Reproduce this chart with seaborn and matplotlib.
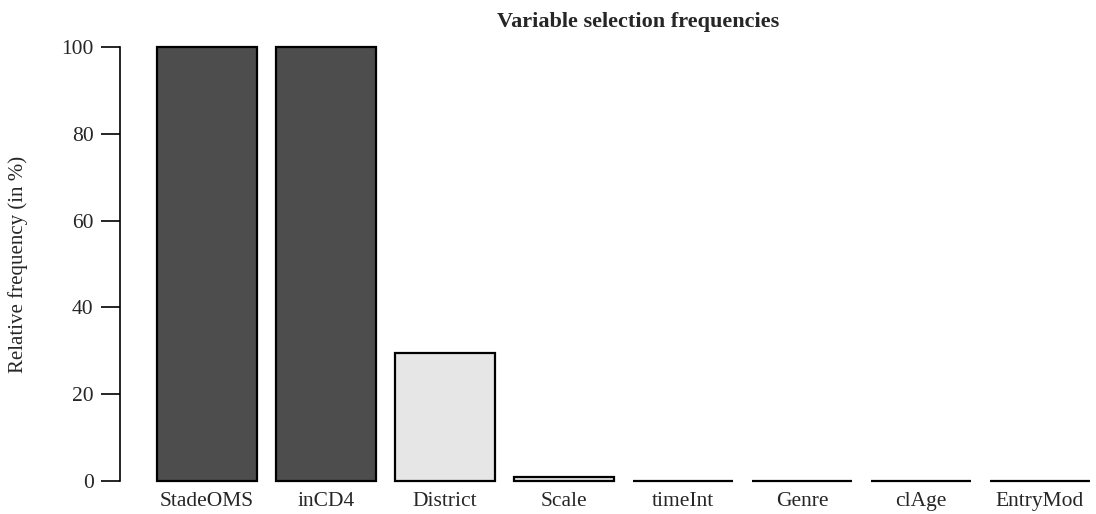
import matplotlib
matplotlib.use("Agg")
import matplotlib.pyplot as plt
import seaborn as sns

# Variable selection frequencies (in %)
variables = ["StadeOMS", "inCD4", "District", "Scale", "timeInt", "Genre", "clAge", "EntryMod"]
frequencies = [100, 100, 29.5, 1.0, 0, 0, 0, 0]
bar_colors = ["#4D4D4D", "#4D4D4D", "#E6E6E6", "#E6E6E6", "#E6E6E6", "#E6E6E6", "#E6E6E6", "#E6E6E6"]

sns.set_style("white")
plt.rcParams["font.family"] = ["Liberation Serif", "DejaVu Serif"]

fig = plt.figure(figsize=(10.96, 5.14), dpi=100)
ax = fig.add_axes([120 / 1096, 33 / 514, 976 / 1096, 434 / 514])

sns.barplot(x=variables, y=frequencies, hue=variables, palette=bar_colors,
            legend=False, width=0.84, edgecolor="black", linewidth=1.6, ax=ax)
for p in ax.patches:
    p.set_clip_on(False)

ax.set_xlim(-0.731, 7.471)
ax.set_ylim(0, 100)
ax.set_yticks([0, 20, 40, 60, 80, 100])
ax.tick_params(axis="y", length=14, width=1.2, color="black", pad=5, labelsize=15.5, left=True)
ax.tick_params(axis="x", length=0, pad=8, labelsize=15.5)

for side in ["top", "right", "bottom"]:
    ax.spines[side].set_visible(False)
ax.spines["left"].set_color("black")
ax.spines["left"].set_linewidth(1.2)

ax.set_xlabel("")
ax.set_ylabel("Relative frequency (in %)", fontsize=15, labelpad=24)
fig.text(638 / 1096, 1 - 22 / 514, "Variable selection frequencies",
         ha="center", va="center", fontsize=16, fontweight="bold")

fig.savefig("out.png", dpi=100)
